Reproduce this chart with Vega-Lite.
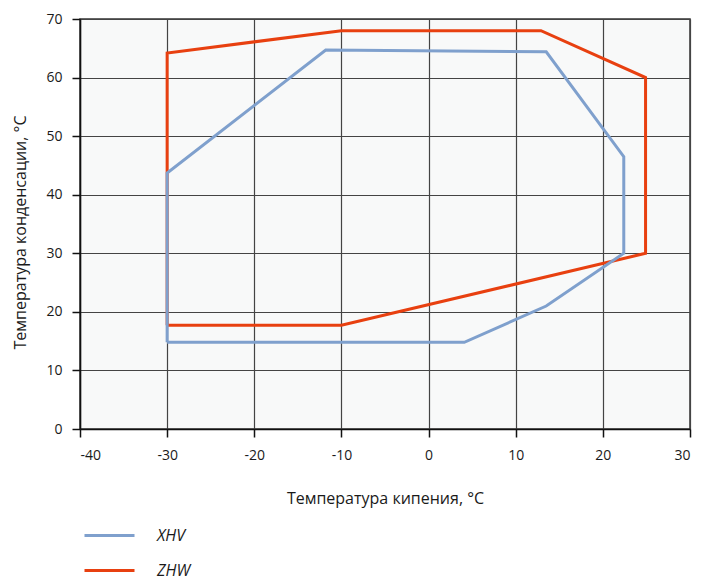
{
  "$schema": "https://vega.github.io/schema/vega-lite/v6.json",
  "autosize": "none",
  "width": 610,
  "height": 410,
  "padding": {"left": 80, "top": 19, "right": 23, "bottom": 154},
  "background": "white",
  "config": {
    "font": "Open Sans",
    "view": {"fill": "#f8f9f9", "stroke": "#333", "strokeWidth": 1.5},
    "axis": {
      "labelFont": "Open Sans", "labelFontSize": 14, "labelColor": "#1a1a1a",
      "titleFont": "Open Sans", "titleFontSize": 16, "titleFontWeight": "normal", "titleColor": "#1a1a1a",
      "gridColor": "#444", "gridOpacity": 1, "gridWidth": 1.2,
      "domainColor": "#111", "domainWidth": 1.5,
      "tickColor": "#111", "tickWidth": 1.5, "tickSize": 8,
      "labelExpr": "replace(datum.label, '−', '-')"
    }
  },
  "data": {
    "values": [
      {"s": "ZHW", "o": 1, "x": -30, "y": 17.7},
      {"s": "ZHW", "o": 2, "x": -30, "y": 64.2},
      {"s": "ZHW", "o": 3, "x": -10, "y": 68},
      {"s": "ZHW", "o": 4, "x": 12.9, "y": 68},
      {"s": "ZHW", "o": 5, "x": 24.9, "y": 60},
      {"s": "ZHW", "o": 6, "x": 24.9, "y": 30},
      {"s": "ZHW", "o": 7, "x": -10, "y": 17.7},
      {"s": "ZHW", "o": 8, "x": -30, "y": 17.7},
      {"s": "XHV", "o": 1, "x": -30, "y": 14.8},
      {"s": "XHV", "o": 2, "x": -30, "y": 43.7},
      {"s": "XHV", "o": 3, "x": -11.8, "y": 64.7},
      {"s": "XHV", "o": 4, "x": 13.5, "y": 64.4},
      {"s": "XHV", "o": 5, "x": 22.4, "y": 46.5},
      {"s": "XHV", "o": 6, "x": 22.4, "y": 30},
      {"s": "XHV", "o": 7, "x": 13.5, "y": 21},
      {"s": "XHV", "o": 8, "x": 4.1, "y": 14.8},
      {"s": "XHV", "o": 9, "x": -30, "y": 14.8}
    ]
  },
  "mark": {"type": "line", "strokeWidth": 3, "strokeJoin": "miter", "clip": true},
  "encoding": {
    "x": {
      "field": "x", "type": "quantitative",
      "scale": {"domain": [-40, 30], "nice": false},
      "axis": {"values": [-40, -30, -20, -10, 0, 10, 20, 30], "title": "Температура кипения, °C", "titleY": 69, "titleBaseline": "middle", "labelPadding": 11}
    },
    "y": {
      "field": "y", "type": "quantitative",
      "scale": {"domain": [0, 70], "nice": false},
      "axis": {"values": [0, 10, 20, 30, 40, 50, 60, 70], "title": "Температура конденсации, °C", "titleX": -60, "titleY": 213, "titleBaseline": "middle", "labelPadding": 10}
    },
    "color": {
      "field": "s", "type": "nominal",
      "scale": {"domain": ["XHV", "ZHW"], "range": ["#7fa0cd", "#e84010"]},
      "legend": {
        "title": null, "orient": "none", "legendX": 3, "legendY": 490,
        "direction": "vertical",
        "symbolType": "stroke", "symbolSize": 2500, "symbolStrokeWidth": 3,
        "labelFont": "Open Sans", "labelFontSize": 16, "labelFontStyle": "italic", "labelColor": "#1a1a1a",
        "labelOffset": 21, "rowPadding": -20
      }
    },
    "order": {"field": "o", "type": "quantitative"}
  }
}
